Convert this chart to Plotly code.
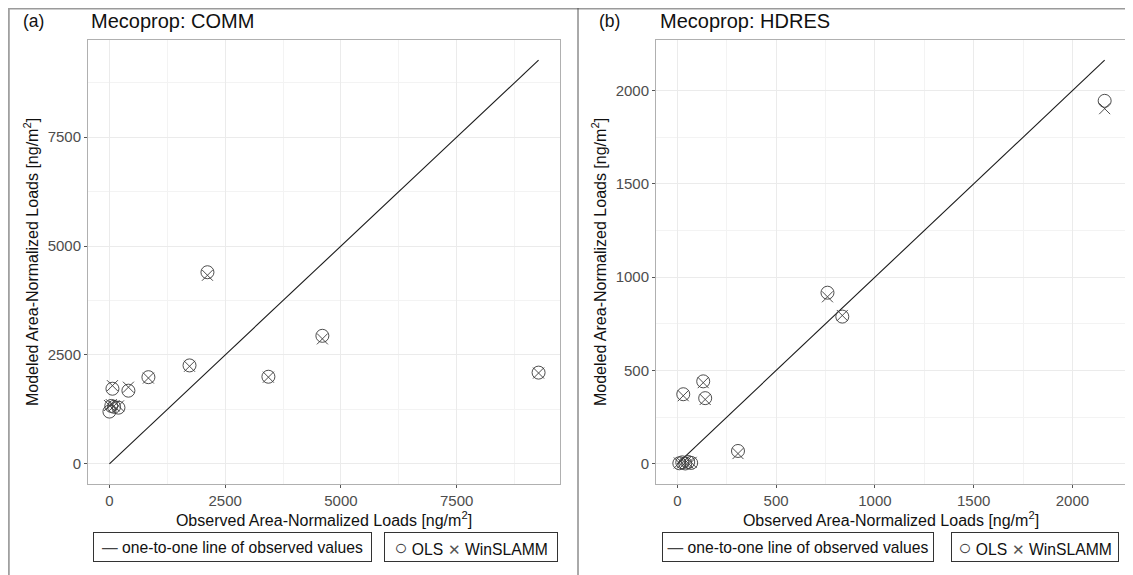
import plotly.graph_objects as go

# ---- data ----
comm_obs = [0, 40, 100, 195, 65, 410, 842, 1730, 2117, 3434, 4600, 9270]
comm_ols = [1200, 1330, 1310, 1290, 1725, 1680, 1990, 2260, 4400, 2000, 2940, 2095]
comm_win = [1340, 1360, 1330, 1330, 1795, 1760, 1970, 2240, 4330, 1990, 2870, 2085]

hdres_obs = [10, 25, 40, 55, 70, 30, 131, 141, 307, 760, 835, 2163]
hdres_ols = [3, 8, 2, 10, 5, 373, 442, 352, 69, 917, 789, 1945]
hdres_win = [5, 4, 6, 3, 8, 365, 435, 345, 55, 895, 795, 1903]

comm_ticks = [0, 2500, 5000, 7500]
hdres_ticks = [0, 500, 1000, 1500, 2000]

# page body has an 8px margin; figure fills the rest of the window
OFF = 8
W, H = 1133 - OFF, 575 - OFF
FONT = "Liberation Sans, Arial, sans-serif"
MK = "#3a3a3a"


def px(X):
    return (X - OFF) / W


def py(Y):
    return 1 - (Y - OFF) / H


fig = go.Figure()


def add_panel(obs, ols, win, xa, ya):
    lo, hi = 0, max(obs)
    fig.add_trace(go.Scatter(x=[lo, hi], y=[lo, hi], mode="lines",
                             line=dict(color="#1a1a1a", width=1.1),
                             xaxis=xa, yaxis=ya, showlegend=False, hoverinfo="skip"))
    fig.add_trace(go.Scatter(x=obs, y=ols, mode="markers",
                             marker=dict(symbol="circle-open", size=13, color=MK,
                                         line=dict(width=0.9, color=MK)),
                             xaxis=xa, yaxis=ya, showlegend=False))
    fig.add_trace(go.Scatter(x=obs, y=win, mode="markers",
                             marker=dict(symbol="x-thin-open", size=11, color=MK,
                                         line=dict(width=0.9, color=MK)),
                             xaxis=xa, yaxis=ya, showlegend=False))


add_panel(comm_obs, comm_ols, comm_win, "x", "y")
add_panel(hdres_obs, hdres_ols, hdres_win, "x2", "y2")


def ax(domain, rng, ticks, minor, anchor, title, standoff):
    return dict(domain=domain, range=rng, tickvals=ticks, ticktext=[str(t) for t in ticks],
                showgrid=True, gridcolor="#ebebeb", gridwidth=1.1, zeroline=False,
                showline=True, linecolor="#b0b0b0", linewidth=1, mirror=True,
                ticks="outside", ticklen=3, tickcolor="#555555", tickwidth=1,
                tickfont=dict(family=FONT, size=15, color="#4d4d4d"),
                minor=dict(tickvals=minor, showgrid=True, gridcolor="#f3f3f3",
                           gridwidth=0.6, ticks=""),
                anchor=anchor,
                title=dict(text=title, font=dict(family=FONT, size=16, color="#111111"),
                           standoff=standoff))


xd1 = [px(88), px(560)]
xd2 = [px(656), px(1126)]
yd = [py(484), py(40)]

crng = [-463, 9733]
hrng = [-108, 2271]

xt = "Observed Area-Normalized Loads [ng/m<sup>2</sup>]"
yt = "Modeled Area-Normalized Loads [ng/m<sup>2</sup>]"

fig.update_layout(
    width=W, height=H, margin=dict(l=0, r=0, t=0, b=0),
    paper_bgcolor="white", plot_bgcolor="white",
    xaxis=ax(xd1, crng, comm_ticks, [1250, 3750, 6250, 8750], "y", xt, 3),
    yaxis=ax(yd, crng, comm_ticks, [1250, 3750, 6250, 8750], "x", yt, 5),
    xaxis2=ax(xd2, hrng, hdres_ticks, [250, 750, 1250, 1750], "y2", xt, 3),
    yaxis2=ax(yd, hrng, hdres_ticks, [250, 750, 1250, 1750], "x2", yt, 5),
    showlegend=False,
)

# outer frame lines
shapes = [
    dict(type="line", xref="paper", yref="paper", x0=0, x1=1, y0=py(8.7), y1=py(8.7),
         line=dict(color="#9a9a9a", width=1.5)),
    dict(type="line", xref="paper", yref="paper", x0=px(8.8), x1=px(8.8), y0=0, y1=py(8),
         line=dict(color="#a0a0a0", width=2)),
    dict(type="line", xref="paper", yref="paper", x0=px(578), x1=px(578), y0=0, y1=py(8),
         line=dict(color="#555555", width=1)),
]
fig.update_layout(shapes=shapes)

ann = []


def label(text, xpx, ypx, size):
    ann.append(dict(text=text, x=px(xpx), y=py(ypx), xref="paper", yref="paper",
                    xanchor="left", yanchor="middle", showarrow=False,
                    font=dict(family=FONT, size=size, color="#111111")))


label("(a)", 21, 21, 17.5)
label("Mecoprop: COMM", 89, 21, 20)
label("(b)", 597, 21, 17.5)
label("Mecoprop: HDRES", 658, 21, 20)


def legbox(text, x0, x1, yc):
    ann.append(dict(text=text, x=px((x0 + x1) / 2), y=py(yc), xref="paper", yref="paper",
                    xanchor="center", yanchor="middle", showarrow=False,
                    width=x1 - x0 - 8, height=22, align="center",
                    bordercolor="#333333", borderwidth=1, borderpad=3,
                    font=dict(family=FONT, size=15.7, color="#111111")))


CIRC = "<span style='font-size:22px;color:#444444'>\u25CB</span>"
CROSS = "<span style='font-size:15px;color:#555555'>\u2715</span>"
DASH = "<span style='color:#444444'>\u2014</span>"

LEG_Y = 547
legbox(DASH + " one-to-one line of observed values", 93, 372, LEG_Y)
legbox(CIRC + " OLS " + CROSS + " WinSLAMM", 384, 558, LEG_Y)
legbox(DASH + " one-to-one line of observed values", 662, 934, LEG_Y)
legbox(CIRC + " OLS " + CROSS + " WinSLAMM", 951, 1119, LEG_Y)

fig.update_layout(annotations=ann)

fig.write_html("out.html")
